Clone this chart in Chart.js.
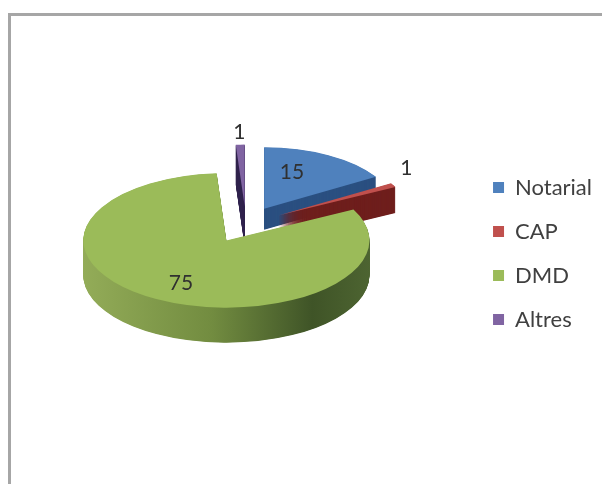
<!DOCTYPE html>
<html>
<head>
<meta charset="utf-8">
<title>Pie</title>
<script src="https://cdn.jsdelivr.net/npm/chart.js@4"></script>
<style>
  html, body { margin: 0; padding: 0; background: #fff; overflow: hidden; }
  #wrap { position: relative; width: 602px; height: 484px; overflow: hidden; }
  #frame { position: absolute; left: 8px; top: 13px; right: 0; bottom: 0;
    border-top: 3px solid #a6a6a6; border-left: 3px solid #a6a6a6; }
  canvas { position: absolute; left: 0; top: 0; }
</style>
</head>
<body>
<div id="wrap">
  <div id="frame"></div>
  <canvas id="pie" width="602" height="484"></canvas>
</div>
<script>
const categories = ["Notarial", "CAP", "DMD", "Altres"];
const values = [15, 1, 75, 1];
const topColors = ["#4f81bd", "#c0504d", "#9bbb59", "#8064a2"];
const sideColors = ["#2b5080", "#6f1f1d", null, "#33254f"];
const explode = [37, 38, 40, 38];
// fake perspective: front slice a bit bigger and deeper
const nearScale = [0.97, 0.97, 1.06, 0.97];
const depths = [21, 26, 35, 40];
const drawOrder = [0, 1, 3, 2];
const labelRadius = [0.62, 1.14, 0.62, 1.2];
const labelNudge = [[-12, -3], [-3, -13], [-2, 6], [0, 0]];

const pieCenter = { x: 246, y: 224 };
const tilt = 0.47;

function placeSlice(ctx, arc, i, depth) {
  const mid = (arc.startAngle + arc.endAngle) / 2;
  ctx.translate(pieCenter.x + Math.cos(mid) * explode[i],
    pieCenter.y + Math.sin(mid) * explode[i] * tilt + depth);
  ctx.scale(nearScale[i], tilt * nearScale[i]);
  ctx.translate(-arc.x, -arc.y);
}

const tiltedPie = {
  id: "tiltedPie",
  beforeDatasetDraw(chart, args) {
    const ctx = chart.ctx;
    const arcs = chart.getDatasetMeta(args.index).data;

    drawOrder.forEach((i) => {
      const arc = arcs[i];
      const opts = arc.options;
      let side = sideColors[i];
      if (!side) {
        // gradient lives in the arc's own coordinates
        side = ctx.createLinearGradient(arc.x - arc.outerRadius, 0, arc.x + arc.outerRadius, 0);
        side.addColorStop(0, "#93ac58");
        side.addColorStop(0.45, "#728c40");
        side.addColorStop(0.8, "#3f5427");
        side.addColorStop(1, "#4d6431");
      }
      arc.options = Object.assign({}, opts, { backgroundColor: side });
      for (let d = depths[i]; d > 0; d -= 0.5) {
        ctx.save();
        placeSlice(ctx, arc, i, d);
        arc.draw(ctx);
        ctx.restore();
      }
      arc.options = opts;
      ctx.save();
      placeSlice(ctx, arc, i, 0);
      arc.draw(ctx);
      ctx.restore();
    });

    // value labels
    ctx.save();
    ctx.font = "21px Lato";
    ctx.fillStyle = "#303030";
    ctx.textAlign = "center";
    ctx.textBaseline = "middle";
    arcs.forEach((arc, i) => {
      const mid = (arc.startAngle + arc.endAngle) / 2;
      const r = explode[i] + arc.outerRadius * nearScale[i] * labelRadius[i];
      const x = pieCenter.x + Math.cos(mid) * r + labelNudge[i][0];
      const y = pieCenter.y + Math.sin(mid) * r * tilt + labelNudge[i][1];
      ctx.fillText(String(values[i]), x, y);
    });
    ctx.restore();
    return false; // slices are already drawn
  }
};

new Chart(document.getElementById("pie"), {
  type: "pie",
  data: {
    labels: categories,
    datasets: [{
      data: values,
      backgroundColor: topColors,
      borderWidth: 0
    }]
  },
  options: {
    responsive: false,
    animation: false,
    radius: 135,
    layout: { padding: { top: 23, right: 0, left: 0, bottom: 0 } },
    plugins: {
      tooltip: { enabled: false },
      legend: {
        position: "right",
        labels: {
          boxWidth: 11,
          boxHeight: 11,
          padding: 22,
          color: "#404040",
          font: { family: "Lato", size: 22 }
        }
      }
    }
  },
  plugins: [tiltedPie]
});
</script>
</body>
</html>
